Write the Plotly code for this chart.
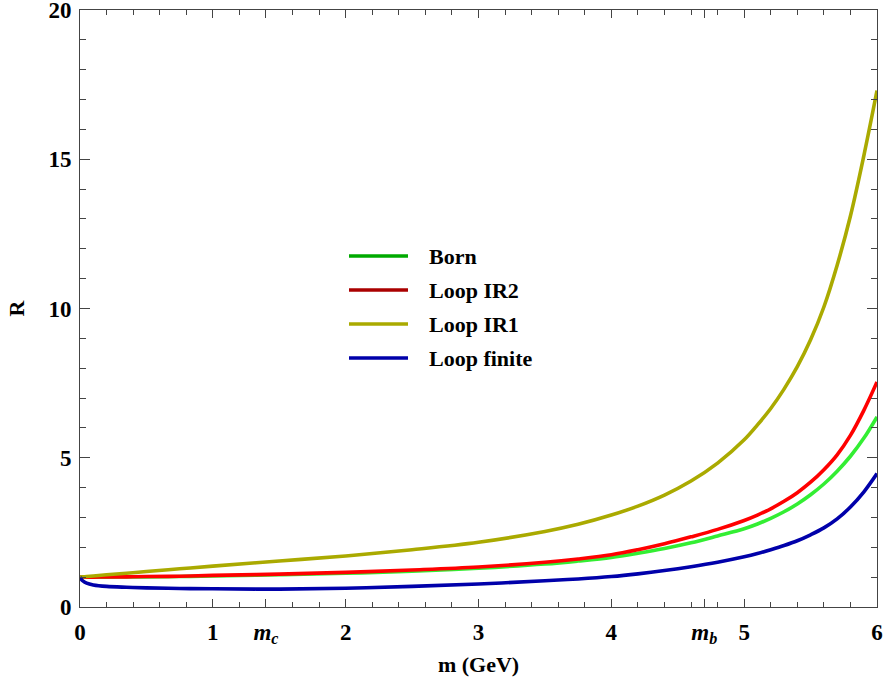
import plotly.graph_objects as go

# ---------------- data ----------------
m_vals = [0, 0.02, 0.05, 0.1, 0.2, 0.35, 0.5, 0.75, 1, 1.5, 2, 2.5, 3, 3.5, 3.75, 4,
          4.2, 4.4, 4.6, 4.8, 5.0, 5.1, 5.2, 5.3, 5.4, 5.5, 5.6, 5.7, 5.8, 5.9, 6.0]
born = [1, 1, 1, 1, 1.0, 1.01, 1.01, 1.02, 1.04, 1.08, 1.13, 1.2, 1.3, 1.44, 1.54, 1.66,
        1.8, 1.96, 2.15, 2.38, 2.62, 2.78, 2.97, 3.19, 3.45, 3.76, 4.12, 4.55, 5.05, 5.65, 6.37]
loop_ir2 = [1, 1, 1, 1, 1.01, 1.01, 1.02, 1.03, 1.06, 1.1, 1.16, 1.24, 1.34, 1.5, 1.61, 1.75,
            1.92, 2.12, 2.35, 2.6, 2.9, 3.08, 3.29, 3.54, 3.83, 4.18, 4.6, 5.1, 5.75, 6.58, 7.54]
loop_ir1 = [1, 1.01, 1.02, 1.04, 1.08, 1.13, 1.19, 1.28, 1.37, 1.54, 1.71, 1.92, 2.17, 2.53, 2.77,
            3.08, 3.38, 3.75, 4.22, 4.82, 5.6, 6.1, 6.65, 7.3, 8.05, 8.95, 10.05, 11.45, 13.1,
            15.1, 17.3]
loop_finite = [1, 0.88, 0.8, 0.74, 0.69, 0.66, 0.64, 0.62, 0.61, 0.6, 0.63, 0.69, 0.77, 0.88,
               0.94, 1.02, 1.11, 1.22, 1.35, 1.5, 1.68, 1.79, 1.92, 2.06, 2.22, 2.42, 2.65,
               2.95, 3.35, 3.85, 4.47]

series_names = ["Born", "Loop IR2", "Loop IR1", "Loop finite"]
series_values = [born, loop_ir2, loop_ir1, loop_finite]
line_colors = ["#33EE33", "#FF0000", "#AAAA00", "#0000AA"]
legend_colors = ["#00AA00", "#AA0000", "#AAAA00", "#0000AA"]

x_tickvals = [0, 1, 1.4, 2, 3, 4, 4.7, 5, 6]
x_ticktext = ["<b>0</b>", "<b>1</b>", "<b><i>m</i><sub><i>c</i></sub></b>", "<b>2</b>",
              "<b>3</b>", "<b>4</b>", "<b><i>m</i><sub><i>b</i></sub></b>", "<b>5</b>", "<b>6</b>"]
y_tickvals = [0, 5, 10, 15, 20]
y_ticktext = ["<b>0</b>", "<b>5</b>", "<b>10</b>", "<b>15</b>", "<b>20</b>"]

FONT = "Liberation Serif"
W, H = 884, 687
L, R, T, B = 80, 7, 10, 80

fig = go.Figure()
for name, vals, col in zip(series_names, series_values, line_colors):
    fig.add_trace(go.Scatter(x=m_vals, y=vals, mode="lines", name=name,
                             line=dict(color=col, width=3.6, shape="spline", smoothing=1.0),
                             showlegend=False))

# manual legend (line sample + bold label)
pw = W - L - R
ph = H - T - B
row_px = [256, 290, 324, 358]
for name, col, py in zip(series_names, legend_colors, row_px):
    yp = (H - B - py) / ph
    fig.add_shape(type="line", xref="paper", yref="paper",
                  x0=(349 - L) / pw, x1=(408 - L) / pw, y0=yp, y1=yp,
                  line=dict(color=col, width=3.6))
    fig.add_annotation(xref="paper", yref="paper", x=(427 - L) / pw, y=yp,
                       xanchor="left", yanchor="middle", showarrow=False,
                       text="<b>%s</b>" % name,
                       font=dict(family=FONT, size=22, color="black"))

axis_common = dict(showgrid=False, zeroline=False, showline=True, linecolor="#444444",
                   linewidth=1, mirror="ticks", ticks="inside", tickcolor="#444444",
                   tickwidth=1, ticklabeloverflow="allow",
                   tickfont=dict(family=FONT, size=23, color="black"))

fig.update_xaxes(range=[0, 6], tickmode="array", tickvals=x_tickvals, ticktext=x_ticktext,
                 ticklen=8, ticklabelstandoff=4,
                 minor=dict(ticks="inside", dtick=0.2, tick0=0, ticklen=5,
                            tickcolor="#444444", tickwidth=1, showgrid=False),
                 title=dict(text="<b>m (GeV)</b>", font=dict(family=FONT, size=22, color="black"),
                            standoff=10),
                 **axis_common)
fig.update_yaxes(range=[0, 20], tickmode="array", tickvals=y_tickvals, ticktext=y_ticktext,
                 ticklen=10, ticklabelstandoff=3,
                 minor=dict(ticks="inside", dtick=1, tick0=0, ticklen=6,
                            tickcolor="#444444", tickwidth=1, showgrid=False),
                 title=dict(text="<b>R</b>", font=dict(family=FONT, size=22, color="black"),
                            standoff=17),
                 **axis_common)

fig.update_layout(width=W, height=H, margin=dict(l=L, r=R, t=T, b=B, autoexpand=False),
                  plot_bgcolor="white", paper_bgcolor="white", showlegend=False)

fig.write_html("out.html", config={"displayModeBar": False},
               post_script="document.body.style.margin='0px';")
